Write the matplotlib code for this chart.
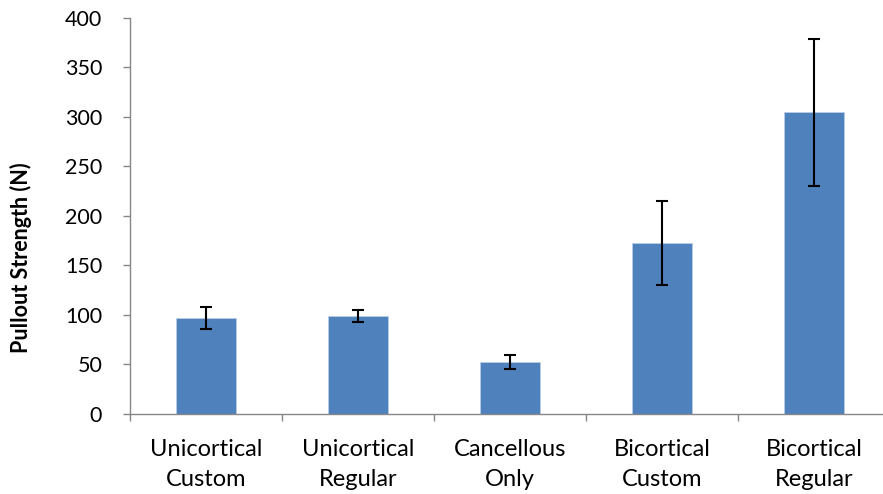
import matplotlib
matplotlib.use("Agg")
import matplotlib.pyplot as plt

categories = ["Unicortical\nCustom", "Unicortical\nRegular", "Cancellous\nOnly",
              "Bicortical\nCustom", "Bicortical\nRegular"]
strength = [96.5, 98.5, 52.5, 172, 304.5]
strength_err = [11.5, 6, 7, 42.5, 74.5]
y_ticks = [0, 50, 100, 150, 200, 250, 300, 350, 400]

plt.rcParams['font.family'] = ['Lato', 'DejaVu Sans']

fig = plt.figure(figsize=(8.83, 4.94), dpi=100)
ax = fig.add_axes([130 / 883, 1 - 413.5 / 494, 760 / 883, (413.5 - 18) / 494])

x = list(range(len(categories)))
ax.bar(x, strength, width=0.4, color="#4F81BD", edgecolor="#B9CDE5", linewidth=0.6,
       zorder=2)
ax.errorbar(x, strength, yerr=strength_err, fmt="none", ecolor="black",
            elinewidth=1.5, capsize=4.5, capthick=1.5, zorder=3)

ax.set_xlim(-0.5, len(categories) - 0.5)
ax.set_ylim(0, 400)
ax.set_yticks(y_ticks)
ax.set_yticklabels([str(v) for v in y_ticks], fontsize=15.5)

ax.set_xticks([i - 0.5 for i in range(len(categories) + 1)])
ax.set_xticklabels([])
ax.set_xticks(x, minor=True)
ax.set_xticklabels(categories, minor=True, fontsize=17, linespacing=1.5)
ax.tick_params(axis="x", which="minor", length=0, pad=18.5)
ax.tick_params(axis="x", which="major", length=5, width=1, color="#868686",
               direction="out")
ax.tick_params(axis="y", length=5, width=1, color="#868686", direction="out",
               pad=15)

for side in ("top", "right"):
    ax.spines[side].set_visible(False)
for side in ("left", "bottom"):
    ax.spines[side].set_color("#868686")
    ax.spines[side].set_linewidth(1)

ax.set_ylabel("Pullout Strength (N)", fontsize=15.5, fontweight="bold")
ax.yaxis.set_label_coords(-0.129, 0.394)

fig.savefig("out.png", dpi=100, facecolor="white")
